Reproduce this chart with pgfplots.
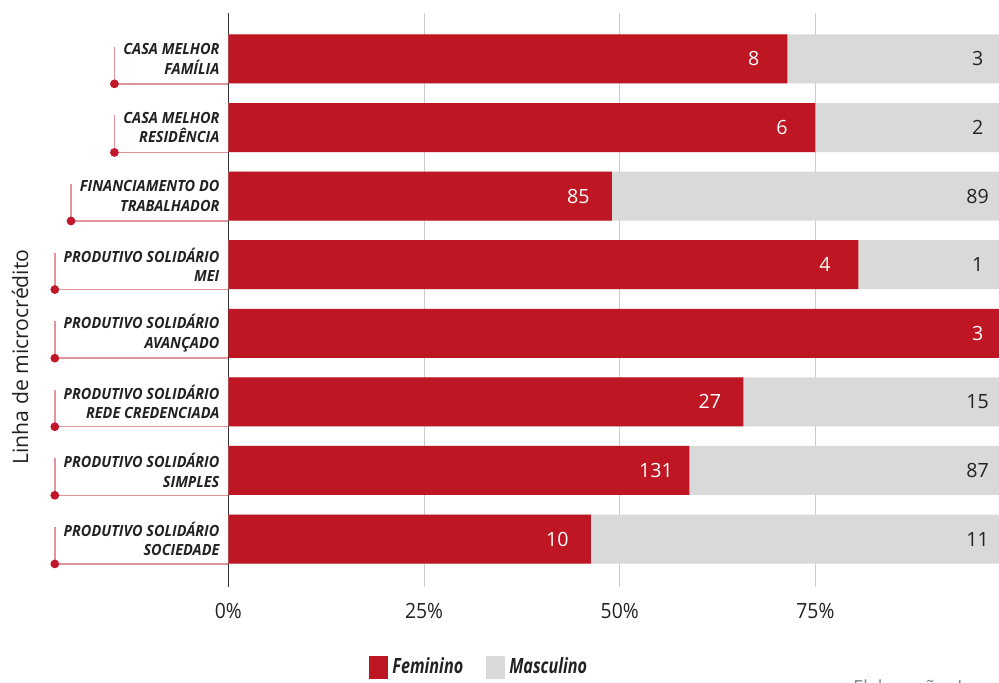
\documentclass[border=0pt]{standalone}
\usepackage{fontspec}
\setmainfont{Open Sans}
\newfontfamily\condfont{Open Sans}[FakeStretch=0.94]
\newfontfamily\legfont{Open Sans}[FakeStretch=0.77]
\newfontfamily\tickfont{Open Sans}[FakeStretch=0.92]
\usepackage{pgfplots}
\usepackage{pgfplotstable}
\pgfplotsset{compat=1.18}
\definecolor{fem}{HTML}{BE1622}
\definecolor{masc}{HTML}{D9D9D9}
\definecolor{txt}{HTML}{222222}
\definecolor{lead}{HTML}{E3939A}
\definecolor{dotc}{HTML}{C0182A}
\definecolor{gridcol}{HTML}{CCCCCC}
\definecolor{axcol}{HTML}{333333}
\pgfplotsset{boxlegend/.style={legend image code/.code={\fill[##1] (0pt,-5.75pt) rectangle (9.5pt,5.75pt);}}}

% share of women (%) and number of women per line
\pgfplotstableread{
y fem femn
7 71.4 8
6 75.0 6
5 49.0 85
4 80.5 4
3 100 3
2 65.8 27
1 58.9 131
0 46.3 10
}\femtable
% share of men (%) and number of men per line (Avancado has no men)
\pgfplotstableread{
y fem masc mascn
7 71.4 28.6 3
6 75.0 25.0 2
5 49.0 51.0 89
4 80.5 19.5 1
2 65.8 34.2 15
1 58.9 41.1 87
0 46.3 53.7 11
}\masctable

\begin{document}
\begin{tikzpicture}
\path[use as bounding box] (-114.15pt,-47.5pt) rectangle (385.35pt,293.5pt);
\begin{axis}[
  at={(0pt,0pt)}, anchor=south west,
  scale only axis, width=385.35pt, height=287pt,
  xmin=0, xmax=98.45, ymin=-0.70, ymax=7.67,
  clip=false,
  xbar, bar width=24.5pt, bar shift=0pt,
  axis line style={draw=none},
  major tick length=0pt, tick style={draw=none},
  xtick={25,50,75}, xticklabels={25\%,50\%,75\%},
  extra x ticks={0}, extra x tick labels={0\%},
  extra x tick style={grid style={draw=axcol, line width=0.6pt}},
  xmajorgrids, grid style={draw=gridcol, line width=0.5pt},
  xticklabel style={font=\tickfont\fontsize{10.5}{12}\selectfont, text=txt, inner sep=0pt, anchor=north, yshift=-8pt},
  ytick={0,...,7},
  yticklabels={{PRODUTIVO SOLIDÁRIO\\SOCIEDADE},{PRODUTIVO SOLIDÁRIO\\SIMPLES},{PRODUTIVO SOLIDÁRIO\\REDE CREDENCIADA},{PRODUTIVO SOLIDÁRIO\\AVANÇADO},{PRODUTIVO SOLIDÁRIO\\MEI},{FINANCIAMENTO DO\\TRABALHADOR},{CASA MELHOR\\RESIDÊNCIA},{CASA MELHOR\\FAMÍLIA}},
  yticklabel style={font=\condfont\bfseries\itshape\fontsize{7.7}{9.75}\selectfont, text=txt, align=right, anchor=east, inner xsep=4.25pt, inner ysep=0pt, minimum height=24.5pt,
    append after command={\pgfextra{%
      \draw[lead, line width=0.7pt] (\tikzlastnode.south east) -- (\tikzlastnode.south west) -- ++(0pt,18.5pt);
      \fill[dotc] (\tikzlastnode.south west) circle[radius=2.2pt];
    }}},
  ylabel={Linha de microcrédito},
  ylabel style={at={(axis description cs:-0.2700,0.4007)}, anchor=center, font=\fontsize{10.6}{12}\selectfont, text=txt},
  nodes near coords, point meta=explicit symbolic,
  every node near coord/.append style={font=\fontsize{9.8}{11}\selectfont, anchor=center, xshift=-16.75pt, inner sep=0pt},
  legend style={at={(axis description cs:0.1826,-0.1402)}, anchor=west, draw=none, fill=none, inner sep=0pt, legend columns=2,
    font=\legfont\bfseries\itshape\fontsize{10.5}{12}\selectfont, text=txt,
    /tikz/every even column/.append style={column sep=9.5pt}},
  legend cell align=left,
]
\addlegendimage{boxlegend, fill=fem, draw=none}
\addlegendentry{Feminino}
\addlegendimage{boxlegend, fill=masc, draw=none}
\addlegendentry{Masculino}
\addplot[fill=masc, draw=none, every node near coord/.append style={text=txt}, forget plot]
  table[x expr=\thisrow{fem}+\thisrow{masc}, y=y, meta=mascn] {\masctable};
\addplot[fill=fem, draw=none, every node near coord/.append style={text=white}, forget plot]
  table[x=fem, y=y, meta=femn] {\femtable};
\end{axis}
\node[anchor=north west, inner sep=0pt, font=\fontsize{9}{10}\selectfont, text=gray] at (312.35pt,-46pt) {Elaboração: Ipea};
\end{tikzpicture}
\end{document}
